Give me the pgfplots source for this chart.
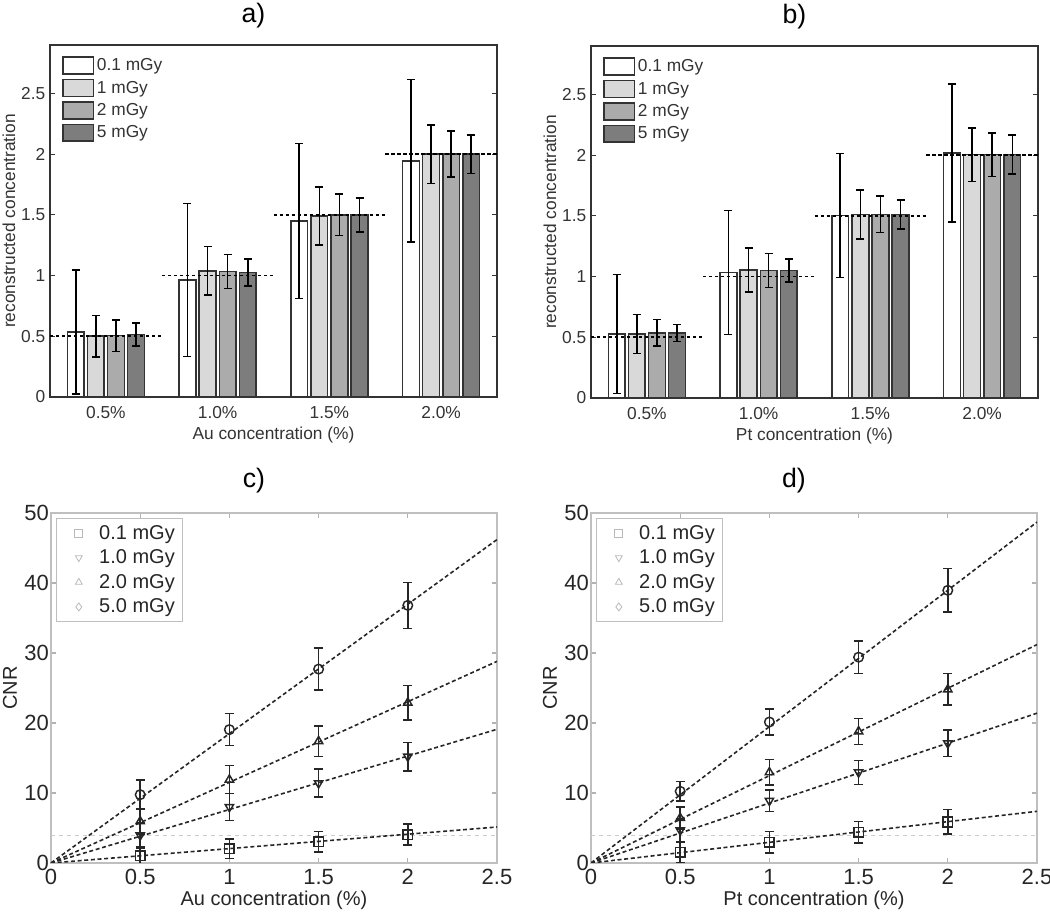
\documentclass[border=0pt]{standalone}
\usepackage{fontspec}
\setmainfont{Liberation Sans}
\usepackage{pgfplots}
\usepackage{pgfplotstable}
\pgfplotsset{compat=1.18}
\definecolor{barA}{gray}{1}
\definecolor{barB}{gray}{0.85}
\definecolor{barC}{gray}{0.67}
\definecolor{barD}{gray}{0.49}

% panel a: c = category index, dXX = bar height, eXX = error
\pgfplotstableread{
c d01   e01  d1    e1   d2    e2   d5    e5
1 0.535 0.51 0.50  0.17 0.505 0.13 0.515 0.096
2 0.965 0.63 1.04  0.20 1.035 0.14 1.025 0.11
3 1.45  0.64 1.49  0.24 1.50  0.17 1.50  0.14
4 1.945 0.67 2.00  0.24 2.00  0.19 2.00  0.16
}\tabA
% panel b
\pgfplotstableread{
c d01   e01  d1    e1   d2    e2   d5    e5
1 0.528 0.49 0.528 0.16 0.537 0.11 0.537 0.07
2 1.033 0.51 1.054 0.18 1.051 0.14 1.049 0.095
3 1.504 0.51 1.512 0.20 1.512 0.15 1.512 0.12
4 2.019 0.57 2.005 0.22 2.005 0.18 2.005 0.16
}\tabB
% panel c
\pgfplotstableread{
x   s01  e01  s1    e1   s2    e2   s5    e5
0.5 1.05 1.3  3.95  1.8  5.95  1.8  9.76  2.1
1   2.05 1.4  8.0   1.9  11.9  2.0  19.05 2.3
1.5 3.05 1.45 11.4  2.0  17.4  2.15 27.7  3.0
2   4.05 1.5  15.2  2.05 22.9  2.45 36.8  3.3
}\tabC
% panel d
\pgfplotstableread{
x   s01  e01  s1    e1   s2    e2   s5    e5
0.5 1.52 1.45 4.67  1.6  6.43  1.6  10.24 1.4
1   2.95 1.55 8.9   1.55 12.95 1.8  20.14 1.85
1.5 4.38 1.55 12.95 1.7  18.8  1.85 29.4  2.3
2   5.86 1.75 17.1  1.9  24.8  2.25 38.95 3.1
}\tabD

\pgfplotsset{
  mybar/.style={ybar, bar width=0.15, bar shift=0pt, draw=black!80, line width=1.2pt, fill=#1,
    error bars/.cd, y dir=both, y explicit,
    error bar style={line width=1.2pt, black},
    error mark options={rotate=90, mark size=3pt, line width=1.2pt, black},
    /pgfplots/.cd,
    legend image code/.code={\draw[fill=#1, draw=black!80, line width=1.2pt] (0cm,-0.22cm) rectangle (0.8cm,0.22cm);}},
  refline/.style={black, line width=1.3pt, dash pattern=on 2.5pt off 2pt, forget plot},
  barax/.style={scale only axis, width=335.25pt, height=264pt,
    xmin=0.5, xmax=4.5, ymin=0, ymax=2.9,
    xtick={1,2,3,4}, xticklabels={0.5\%,1.0\%,1.5\%,2.0\%},
    ytick={0,0.5,1,1.5,2,2.5},
    /pgf/number format/assume math mode=true,
    axis line style={black!80, line width=1pt},
    xtick style={draw=none}, ytick style={black!80, line width=0.8pt},
    major tick length=4pt,
    ticklabel style={font=\fontsize{13}{15}\selectfont, text=black!80},
    xticklabel style={anchor=center, yshift=-12pt},
    ylabel={reconstructed concentration},
    every axis y label/.style={at={(axis description cs:0,0.5)}, xshift=-30.75pt, rotate=90, anchor=center,
      font=\fontsize{13}{15}\selectfont, text=black!80},
    every axis x label/.style={at={(axis description cs:0.5,0)}, yshift=-28.5pt, anchor=center,
      font=\fontsize{13}{15}\selectfont, text=black!80},
    title style={font=\fontsize{20}{24}\selectfont, at={(0.5,1)}, anchor=center, yshift=15.75pt, xshift=-15pt},
    legend style={draw=none, fill=none, at={(axis description cs:0,1)}, anchor=north west,
      xshift=6pt, yshift=-6pt, font=\fontsize{13}{15}\selectfont, row sep=2.2pt, text=black!80},
    legend cell align=left},
  scax/.style={scale only axis, width=334.5pt, height=262.5pt,
    xmin=0, xmax=2.5, ymin=0, ymax=50,
    xtick={0,0.5,1,1.5,2,2.5}, ytick={0,10,20,30,40,50},
    /pgf/number format/assume math mode=true,
    axis line style={gray!50, line width=0.8pt},
    tick style={gray!60, line width=0.8pt}, major tick length=3.5pt,
    ticklabel style={font=\fontsize{16.5}{18}\selectfont, text=black!85},
    xticklabel style={anchor=center, yshift=-10.5pt},
    yticklabel style={xshift=2pt},
    ylabel={CNR},
    every axis y label/.style={at={(axis description cs:0,0.5)}, xshift=-30.75pt, rotate=90, anchor=center,
      font=\fontsize{15}{17}\selectfont, text=black!85},
    every axis x label/.style={at={(axis description cs:0.5,0)}, yshift=-27.75pt, anchor=center,
      font=\fontsize{15}{17}\selectfont, text=black!85},
    title style={font=\fontsize{20}{24}\selectfont, at={(0.5,1)}, anchor=center, yshift=18.5pt, xshift=-15pt},
    legend style={draw=gray!50, line width=0.6pt, fill=white, at={(axis description cs:0,1)}, anchor=north west,
      xshift=3.75pt, yshift=-3.75pt, font=\fontsize{15}{17}\selectfont, row sep=2.5pt, text=black!85,
      inner xsep=4pt, inner ysep=3pt,
      /tikz/every odd column/.append style={column sep=7pt}},
    legend image code/.code={\path (0cm,0cm) (0.65cm,0cm); \draw[#1] plot coordinates {(0.44cm,0cm)};},
    legend cell align=left},
  pts/.style 2 args={only marks, black!85, line width=1.1pt, mark size=3.6pt, mark=#1, mark options={rotate=#2}, forget plot,
    error bars/.cd, y dir=both, y explicit,
    error bar style={line width=1.1pt, black!85},
    error mark options={rotate=90, mark size=3.5pt, line width=1.1pt, black!85},
    /pgfplots/.cd},
  fit/.style={black!85, line width=1.2pt, dash pattern=on 3pt off 2pt, forget plot},
  lgm/.style 2 args={only marks, gray!55, mark size=3pt, mark=#1, mark options={rotate=#2}, line width=0.6pt},
}

\begin{document}
\begin{tikzpicture}
\path[use as bounding box] (0,0) rectangle (787.5pt,684pt);

% ---------- a) ----------
\begin{axis}[barax, at={(37.5pt,386.25pt)}, anchor=south west,
  title={a)}, xlabel={Au concentration (\%)}]
\addplot[mybar=barA] table[x expr=\thisrow{c}-0.27, y=d01, y error=e01]{\tabA};
\addplot[mybar=barB] table[x expr=\thisrow{c}-0.09, y=d1, y error=e1]{\tabA};
\addplot[mybar=barC] table[x expr=\thisrow{c}+0.09, y=d2, y error=e2]{\tabA};
\addplot[mybar=barD] table[x expr=\thisrow{c}+0.27, y=d5, y error=e5]{\tabA};
\legend{0.1 mGy,1 mGy,2 mGy,5 mGy}
\addplot[refline] coordinates {(0.5,0.5) (1.5,0.5)};
\addplot[refline] coordinates {(1.5,1) (2.5,1)};
\addplot[refline] coordinates {(2.5,1.5) (3.5,1.5)};
\addplot[refline] coordinates {(3.5,2) (4.5,2)};
\end{axis}

% ---------- b) ----------
\begin{axis}[barax, at={(443.25pt,385.5pt)}, anchor=south west,
  title={b)}, xlabel={Pt concentration (\%)}]
\addplot[mybar=barA] table[x expr=\thisrow{c}-0.27, y=d01, y error=e01]{\tabB};
\addplot[mybar=barB] table[x expr=\thisrow{c}-0.09, y=d1, y error=e1]{\tabB};
\addplot[mybar=barC] table[x expr=\thisrow{c}+0.09, y=d2, y error=e2]{\tabB};
\addplot[mybar=barD] table[x expr=\thisrow{c}+0.27, y=d5, y error=e5]{\tabB};
\legend{0.1 mGy,1 mGy,2 mGy,5 mGy}
\addplot[refline] coordinates {(0.5,0.5) (1.5,0.5)};
\addplot[refline] coordinates {(1.5,1) (2.5,1)};
\addplot[refline] coordinates {(2.5,1.5) (3.5,1.5)};
\addplot[refline] coordinates {(3.5,2) (4.5,2)};
\end{axis}

% ---------- c) ----------
\begin{axis}[scax, at={(38.25pt,36.75pt)}, anchor=south west,
  title={c)}, xlabel={Au concentration (\%)}]
\addlegendimage{lgm={square}{0}}\addlegendentry{0.1 mGy}
\addlegendimage{lgm={triangle}{180}}\addlegendentry{1.0 mGy}
\addlegendimage{lgm={triangle}{0}}\addlegendentry{2.0 mGy}
\addlegendimage{lgm={diamond}{0}}\addlegendentry{5.0 mGy}
\addplot[gray!40, line width=0.6pt, dashed, forget plot] coordinates {(0,4) (2.5,4)};
\addplot[fit] coordinates {(0,0) (2.5,5.14)};
\addplot[fit] coordinates {(0,0) (2.5,19.1)};
\addplot[fit] coordinates {(0,0) (2.5,28.8)};
\addplot[fit] coordinates {(0,0) (2.5,46.2)};
\addplot[pts={square}{0}] table[x=x, y=s01, y error=e01]{\tabC};
\addplot[pts={triangle}{180}] table[x=x, y=s1, y error=e1]{\tabC};
\addplot[pts={triangle}{0}] table[x=x, y=s2, y error=e2]{\tabC};
\addplot[pts={o}{0}] table[x=x, y=s5, y error=e5]{\tabC};
\end{axis}

% ---------- d) ----------
\begin{axis}[scax, at={(443.25pt,36.75pt)}, anchor=south west,
  title={d)}, xlabel={Pt concentration (\%)}]
\addlegendimage{lgm={square}{0}}\addlegendentry{0.1 mGy}
\addlegendimage{lgm={triangle}{180}}\addlegendentry{1.0 mGy}
\addlegendimage{lgm={triangle}{0}}\addlegendentry{2.0 mGy}
\addlegendimage{lgm={diamond}{0}}\addlegendentry{5.0 mGy}
\addplot[gray!40, line width=0.6pt, dashed, forget plot] coordinates {(0,4) (2.5,4)};
\addplot[fit] coordinates {(0,0) (2.5,7.38)};
\addplot[fit] coordinates {(0,0) (2.5,21.4)};
\addplot[fit] coordinates {(0,0) (2.5,31.2)};
\addplot[fit] coordinates {(0,0) (2.5,48.7)};
\addplot[pts={square}{0}] table[x=x, y=s01, y error=e01]{\tabD};
\addplot[pts={triangle}{180}] table[x=x, y=s1, y error=e1]{\tabD};
\addplot[pts={triangle}{0}] table[x=x, y=s2, y error=e2]{\tabD};
\addplot[pts={o}{0}] table[x=x, y=s5, y error=e5]{\tabD};
\end{axis}
\end{tikzpicture}
\end{document}
